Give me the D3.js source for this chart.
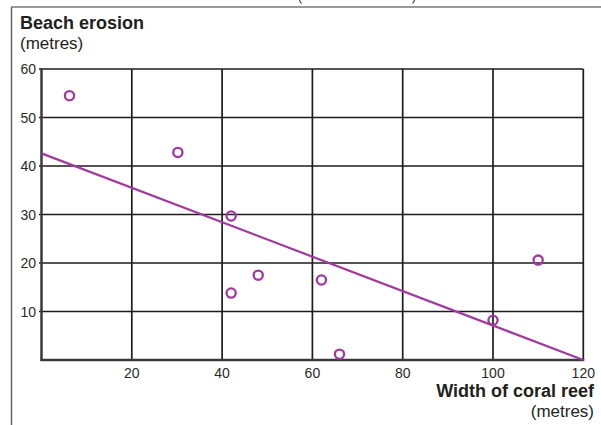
<!DOCTYPE html>
<html>
<head>
<meta charset="utf-8">
<script src="https://cdn.jsdelivr.net/npm/d3@7"></script>
<style>
  body { margin: 0; background: #fff; }
  text { font-family: "Liberation Sans", Arial, sans-serif; }
</style>
</head>
<body>
<script>
// data
var reefWidth = [6.2, 30.2, 42, 42, 48, 62, 66, 100, 110];
var erosion = [54.5, 42.8, 29.7, 13.8, 17.5, 16.5, 1.2, 8.2, 20.6];
var trendX = [0, 120];
var trendY = [42.6, 0];
var xTicks = [20, 40, 60, 80, 100, 120];
var yTicks = [10, 20, 30, 40, 50, 60];

var w = 601, h = 425;
var purple = "#a1399e";

var svg = d3.select("body").append("svg")
  .attr("width", w)
  .attr("height", h);

// outer frame (page border)
svg.append("line").attr("x1", 11.5).attr("x2", 11.5).attr("y1", 7).attr("y2", h)
  .attr("stroke", "#666").attr("stroke-width", 1.5);
svg.append("line").attr("x1", 11).attr("x2", w).attr("y1", 7).attr("y2", 7)
  .attr("stroke", "#777").attr("stroke-width", 1.5);
// bottoms of the bracket glyphs from a caption cut off above
svg.append("path").attr("d", "M299.5,0 Q300,2.5 301.5,3.5")
  .attr("fill", "none").attr("stroke", "#444").attr("stroke-width", 1.2);
svg.append("path").attr("d", "M414.5,0 Q414,2.5 412.5,3.5")
  .attr("fill", "none").attr("stroke", "#444").attr("stroke-width", 1.2);

var x = d3.scaleLinear().domain([0, 120]).range([41.5, 583.3]);
var y = d3.scaleLinear().domain([0, 60]).range([360, 69]);

// grid
svg.selectAll(".vgrid")
  .data(xTicks)
  .enter()
  .append("line")
  .attr("x1", function(d) { return x(d); })
  .attr("x2", function(d) { return x(d); })
  .attr("y1", y(0))
  .attr("y2", y(60))
  .attr("stroke", "#1c1c1c")
  .attr("stroke-width", 1.7);

svg.selectAll(".hgrid")
  .data(yTicks)
  .enter()
  .append("line")
  .attr("x1", x(0) - 2.5)
  .attr("x2", x(120))
  .attr("y1", function(d) { return y(d); })
  .attr("y2", function(d) { return y(d); })
  .attr("stroke", "#1c1c1c")
  .attr("stroke-width", 1.7);

// axis lines
svg.append("line").attr("x1", x(0)).attr("x2", x(0)).attr("y1", y(60) - 1).attr("y2", y(0) + 1)
  .attr("stroke", "#3a3a3a").attr("stroke-width", 2.5);
svg.append("line").attr("x1", x(0) - 1).attr("x2", x(120) + 1).attr("y1", y(0)).attr("y2", y(0))
  .attr("stroke", "#3a3a3a").attr("stroke-width", 2.5);

// tick labels
svg.selectAll(".ylab")
  .data(yTicks)
  .enter()
  .append("text")
  .attr("x", 36)
  .attr("y", function(d) { return y(d); })
  .attr("dy", "0.36em")
  .attr("text-anchor", "end")
  .attr("font-size", 14)
  .attr("fill", "#2a2a2a")
  .text(function(d) { return d; });

svg.selectAll(".xlab")
  .data(xTicks)
  .enter()
  .append("text")
  .attr("x", function(d) { return x(d); })
  .attr("y", 378)
  .attr("text-anchor", "middle")
  .attr("font-size", 14)
  .attr("fill", "#2a2a2a")
  .text(function(d) { return d; });

// trend line
svg.append("line")
  .attr("x1", x(trendX[0])).attr("y1", y(trendY[0]))
  .attr("x2", x(trendX[1])).attr("y2", y(trendY[1]))
  .attr("stroke", purple)
  .attr("stroke-width", 2.2);

// points
svg.selectAll("circle")
  .data(reefWidth)
  .enter()
  .append("circle")
  .attr("cx", function(d) { return x(d); })
  .attr("cy", function(d, i) { return y(erosion[i]); })
  .attr("r", 4.6)
  .attr("fill", "none")
  .attr("stroke", purple)
  .attr("stroke-width", 2.3);

// axis titles
svg.append("text").attr("x", 20).attr("y", 29)
  .attr("font-size", 18).attr("font-weight", "bold").attr("fill", "#231f20")
  .text("Beach erosion");
svg.append("text").attr("x", 20).attr("y", 48.5)
  .attr("font-size", 17).attr("fill", "#231f20")
  .text("(metres)");

svg.append("text").attr("x", 594).attr("y", 397)
  .attr("text-anchor", "end")
  .attr("font-size", 18).attr("font-weight", "bold").attr("fill", "#231f20")
  .text("Width of coral reef");
svg.append("text").attr("x", 594).attr("y", 417)
  .attr("text-anchor", "end")
  .attr("font-size", 17).attr("fill", "#231f20")
  .text("(metres)");
</script>
</body>
</html>
